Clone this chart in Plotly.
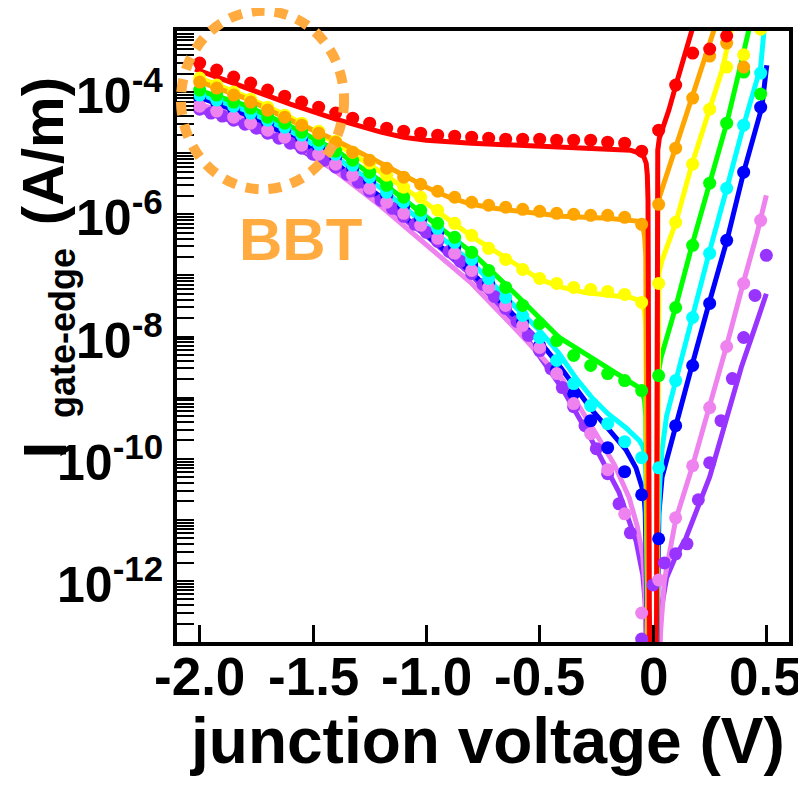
import plotly.graph_objects as go

FONT = "Liberation Sans, Arial, sans-serif"

# ---------------- data (current in A/m stored as log10 values) ----------------
# measured points (common voltage grid)
x_meas = [-2.0, -1.925, -1.85, -1.775, -1.7, -1.625, -1.55, -1.475, -1.4, -1.325,
          -1.25, -1.175, -1.1, -1.025, -0.95, -0.875, -0.8, -0.725, -0.65, -0.575,
          -0.5, -0.425, -0.35, -0.275, -0.2, -0.125, -0.05, 0.025, 0.1, 0.175,
          0.25, 0.325, 0.4, 0.475]

red_meas = [-3.525, -3.639, -3.754, -3.852, -3.967, -4.066, -4.164, -4.246, -4.344, -4.426,
            -4.508, -4.590, -4.639, -4.672, -4.705, -4.721, -4.738, -4.754, -4.770, -4.770,
            -4.770, -4.787, -4.787, -4.787, -4.820, -4.836, -4.967, -4.623, -3.885, -3.361,
            -3.295, -3.082, None, None]
orange_meas = [-3.836, -3.934, -4.049, -4.164, -4.295, -4.410, -4.541, -4.672, -4.820, -4.984,
               -5.115, -5.246, -5.393, -5.508, -5.623, -5.721, -5.803, -5.852, -5.885, -5.918,
               -5.951, -5.984, -6.000, -6.016, -6.016, -6.049, -6.164, -5.836, -4.918, -4.098,
               -3.410, -3.197, -3.590, None]
yellow_meas = [-3.770, -3.885, -4.000, -4.115, -4.246, -4.377, -4.508, -4.639, -4.803, -4.984,
               -5.164, -5.361, -5.557, -5.721, -5.934, -6.148, -6.344, -6.557, -6.738, -6.902,
               -7.049, -7.131, -7.197, -7.230, -7.262, -7.311, -7.443, -7.131, -6.131, -5.180,
               -4.279, -3.590, -3.390, -2.970]
green_meas = [-3.967, -4.049, -4.164, -4.262, -4.410, -4.508, -4.656, -4.787, -4.967, -5.115,
              -5.311, -5.525, -5.721, -5.934, -6.148, -6.377, -6.623, -6.918, -7.197, -7.492,
              -7.787, -8.066, -8.311, -8.475, -8.607, -8.721, -8.885, -8.639, -7.525, -6.508,
              -5.490, -4.508, -3.672, -4.033]
cyan_meas = [-4.049, -4.131, -4.230, -4.344, -4.459, -4.574, -4.705, -4.852, -5.016, -5.197,
             -5.393, -5.639, -5.803, -6.016, -6.230, -6.459, -6.738, -7.049, -7.361, -7.656,
             -8.016, -8.393, -8.770, -9.131, -9.426, -9.721, -9.984, -10.150, -8.721, -7.689,
             -6.639, -5.574, -4.541, -3.689]
blue_meas = [-4.098, -4.180, -4.279, -4.393, -4.508, -4.623, -4.754, -4.902, -5.066, -5.246,
             -5.459, -5.689, -5.869, -6.082, -6.295, -6.541, -6.820, -7.131, -7.443, -7.770,
             -8.148, -8.541, -8.934, -9.377, -9.820, -10.213, -10.590, -11.310, -9.459, -8.475,
             -7.459, -6.426, -5.311, -4.246]
violet_meas = [-4.230, -4.311, -4.410, -4.508, -4.623, -4.738, -4.869, -5.016, -5.180, -5.361,
               -5.574, -5.803, -5.984, -6.180, -6.393, -6.639, -6.918, -7.197, -7.492, -7.820,
               -8.180, -8.607, -9.098, -9.590, -10.180, -10.902, -12.525, -11.984, -10.967, -10.115,
               -9.164, -8.164, -7.131, -6.098]

# purple measured on a finer grid
x_meas_purple = [-2.0, -1.95, -1.9, -1.85, -1.8, -1.75, -1.7, -1.65, -1.6, -1.55,
                 -1.5, -1.45, -1.4, -1.35, -1.3, -1.25, -1.2, -1.15, -1.1, -1.05,
                 -1.0, -0.95, -0.9, -0.85, -0.8, -0.75, -0.7, -0.65, -0.6, -0.55,
                 -0.5, -0.45, -0.4, -0.35, -0.3, -0.25, -0.2, -0.15, -0.1, -0.05,
                 0.0, 0.05, 0.1, 0.15, 0.2, 0.25, 0.3, 0.35, 0.4, 0.45, 0.5]
purple_meas = [-4.279, -4.344, -4.393, -4.459, -4.525, -4.590, -4.672, -4.754, -4.836, -4.918,
               -5.016, -5.115, -5.230, -5.344, -5.475, -5.623, -5.770, -5.902, -6.033, -6.164,
               -6.295, -6.443, -6.607, -6.770, -6.967, -7.148, -7.344, -7.541, -7.754, -7.984,
               -8.230, -8.525, -8.836, -9.148, -9.459, -9.836, -10.246, -10.738, -11.213, -12.951,
               -12.066, -11.705, -11.557, -11.393, -10.672, -10.066, -9.377, -8.689, -8.016, -7.328,
               -6.672]

# simulated curves
red_fit_x = [-2.02, -1.8, -1.6, -1.4, -1.3, -1.2, -1.1, -1.0, -0.8, -0.6, -0.4, -0.2, -0.1, -0.06,
             -0.04, -0.03, -0.025, -0.022, -0.021, -0.016, -0.012,
             0.012, 0.016, 0.019, 0.02, 0.021, 0.028, 0.04, 0.07, 0.101, 0.137, 0.172]
red_fit = [-3.623, -3.918, -4.197, -4.443, -4.557, -4.656, -4.738, -4.787, -4.836, -4.869, -4.893, -4.918,
           -4.951, -5.0, -5.066, -5.164, -5.36, -5.77, -9.0, -12.5, -14.0,
           -14.0, -12.5, -9.0, -5.5, -4.95, -4.754, -4.623, -4.295, -3.885, -3.426, -2.984]

orange_fit_x = [-2.02, -1.8, -1.6, -1.4, -1.2, -1.0, -0.9, -0.8, -0.7, -0.6, -0.4, -0.2, -0.1, -0.06,
                -0.045, -0.037, -0.032, -0.03, -0.028, -0.02,
                0.014, 0.017, 0.019, 0.021, 0.03, 0.057, 0.101, 0.172, 0.233, 0.269]
orange_fit = [-3.803, -4.098, -4.459, -4.787, -5.164, -5.557, -5.721, -5.836, -5.902, -5.951, -6.033, -6.066,
              -6.090, -6.115, -6.197, -6.361, -6.672, -8.0, -11.0, -14.0,
              -14.0, -11.0, -8.0, -5.9, -5.7, -5.39, -4.918, -4.098, -3.344, -2.984]

yellow_fit_x = [-2.02, -1.8, -1.6, -1.4, -1.2, -1.0, -0.8, -0.6, -0.5, -0.4, -0.3, -0.2, -0.1, -0.06,
                -0.045, -0.037, -0.032, -0.03, -0.028, -0.02,
                0.014, 0.017, 0.019, 0.021, 0.026, 0.04, 0.057, 0.101, 0.172, 0.247, 0.305, 0.345]
yellow_fit = [-3.738, -4.066, -4.41, -4.836, -5.311, -5.82, -6.361, -6.836, -7.066, -7.197, -7.279, -7.32,
              -7.361, -7.41, -7.475, -7.607, -7.82, -9.0, -11.0, -14.0,
              -14.0, -11.0, -8.5, -7.3, -6.967, -6.754, -6.59, -6.131, -5.18, -4.28, -3.64, -2.98]

green_fit_x = [-2.02, -1.8, -1.6, -1.4, -1.2, -1.0, -0.8, -0.6, -0.5, -0.414, -0.3, -0.2, -0.1, -0.06,
               -0.045, -0.037, -0.032, -0.03, -0.028, -0.02,
               0.014, 0.017, 0.019, 0.021, 0.035, 0.057, 0.1, 0.172, 0.25, 0.326, 0.392, 0.423]
green_fit = [-3.95, -4.213, -4.557, -4.951, -5.459, -6.033, -6.623, -7.328, -7.7, -8.016, -8.279, -8.508,
             -8.738, -8.84, -8.93, -9.05, -9.3, -10.0, -11.5, -14.0,
             -14.0, -11.0, -9.5, -8.65, -8.35, -8.07, -7.52, -6.51, -5.49, -4.5, -3.475, -2.98]

cyan_fit_x = [-2.02, -1.8, -1.6, -1.4, -1.2, -1.0, -0.8, -0.6, -0.5, -0.414, -0.34, -0.27, -0.2, -0.12,
              -0.06, -0.045, -0.037, -0.032, -0.03, -0.028, -0.02,
              0.014, 0.018, 0.022, 0.03, 0.04, 0.06, 0.1, 0.172, 0.247, 0.326, 0.4, 0.475, 0.49]
cyan_fit = [-4.01, -4.295, -4.639, -5.066, -5.574, -6.18, -6.787, -7.541, -7.9, -8.279, -8.68, -9.0, -9.26,
            -9.492, -9.705, -9.8, -9.92, -10.2, -11.0, -12.0, -14.0,
            -14.0, -12.0, -11.2, -10.4, -9.85, -9.3, -8.72, -7.69, -6.64, -5.57, -4.54, -3.59, -2.98]

blue_fit_x = [-2.02, -1.8, -1.6, -1.4, -1.2, -1.0, -0.8, -0.6, -0.5, -0.414, -0.34, -0.27, -0.2, -0.12,
              -0.075, -0.048, -0.04, -0.034, -0.03, -0.028, -0.02,
              0.014, 0.018, 0.022, 0.026, 0.04, 0.1, 0.172, 0.247, 0.326, 0.4, 0.48, 0.502]
blue_fit = [-4.06, -4.361, -4.721, -5.164, -5.721, -6.328, -6.951, -7.705, -8.08, -8.475, -8.85, -9.2, -9.5,
            -9.85, -10.15, -10.45, -10.57, -10.9, -11.8, -12.5, -14.0,
            -14.0, -12.5, -11.6, -10.9, -10.3, -9.5, -8.475, -7.46, -6.43, -5.31, -4.25, -3.56]

violet_fit_x = [-2.02, -1.8, -1.6, -1.4, -1.2, -1.0, -0.8, -0.6, -0.4, -0.25, -0.17, -0.105, -0.07,
                -0.045, -0.037, -0.032, -0.028, -0.02,
                0.014, 0.025, 0.034, 0.05, 0.1, 0.172, 0.25, 0.325, 0.4, 0.46, 0.5]
violet_fit = [-4.18, -4.426, -4.803, -5.295, -5.869, -6.49, -7.131, -7.902, -8.7, -9.6, -10.1, -10.64, -11.1,
              -11.6, -12.0, -12.6, -13.5, -14.5,
              -14.5, -13.5, -12.8, -12.0, -11.0, -10.15, -9.16, -8.15, -7.1, -6.3, -5.69]

purple_fit_x = [-2.02, -1.8, -1.6, -1.4, -1.2, -1.0, -0.8, -0.6, -0.4, -0.27, -0.15, -0.075, -0.045,
                -0.035, -0.03, -0.025,
                0.014, 0.028, 0.035, 0.06, 0.1, 0.145, 0.2, 0.25, 0.32, 0.39, 0.45, 0.5]
purple_fit = [-4.28, -4.54, -4.85, -5.28, -5.8, -6.35, -7.0, -7.8, -8.85, -9.7, -10.55, -11.34, -11.9,
              -12.33, -13.0, -14.0,
              -14.0, -13.0, -12.5, -11.95, -11.6, -11.3, -10.8, -10.3, -9.4, -8.5, -7.85, -7.3]

y_tick_exp = [-4, -6, -8, -10, -12]
y_tick_text = ["10<sup>-4</sup>", "10<sup>-6</sup>", "10<sup>-8</sup>", "10<sup>-10</sup>", "10<sup>-12</sup>"]
x_tick_vals = [-2.0, -1.5, -1.0, -0.5, 0.0, 0.5]
x_tick_text = ["-2.0", "-1.5", "-1.0", "-0.5", "0", "0.5"]

COL = {"red": "#FF0000", "orange": "#FFA500", "yellow": "#FFFF00", "green": "#00FF00",
       "cyan": "#00FFFF", "blue": "#0000FF", "violet": "#EE82EE", "purple": "#9933FF"}


def to_current(vals):
    return [None if v is None else 10 ** v for v in vals]


fig = go.Figure()

fits = [("purple", purple_fit_x, purple_fit), ("violet", violet_fit_x, violet_fit),
        ("blue", blue_fit_x, blue_fit), ("cyan", cyan_fit_x, cyan_fit),
        ("green", green_fit_x, green_fit), ("yellow", yellow_fit_x, yellow_fit),
        ("orange", orange_fit_x, orange_fit), ("red", red_fit_x, red_fit)]
for name, fx, fy in fits:
    fig.add_trace(go.Scatter(x=fx, y=to_current(fy), mode="lines",
                             line=dict(color=COL[name], width=5),
                             hoverinfo="skip"))

meas = [("purple", x_meas_purple, purple_meas), ("blue", x_meas, blue_meas),
        ("violet", x_meas, violet_meas), ("cyan", x_meas, cyan_meas),
        ("green", x_meas, green_meas), ("yellow", x_meas, yellow_meas),
        ("orange", x_meas, orange_meas), ("red", x_meas, red_meas)]
for name, mx, my in meas:
    fig.add_trace(go.Scatter(x=mx, y=to_current(my), mode="markers",
                             marker=dict(color=COL[name], size=13, line=dict(width=0)),
                             hoverinfo="skip"))

BBT = "#FFAB40"
fig.add_shape(type="circle", xref="paper", yref="paper", x0=0.0065, x1=0.273, y0=0.741, y1=1.033,
              line=dict(color=BBT, width=10, dash="13px,10px"), layer="above")
fig.add_annotation(text="BBT", xref="paper", yref="paper", x=0.201, y=0.658,
                   xanchor="center", yanchor="middle", showarrow=False,
                   font=dict(family=FONT, size=60, color=BBT, weight="bold"))

# tick labels
for v, t in zip(x_tick_vals, x_tick_text):
    fig.add_annotation(text=t, xref="x", yref="paper", x=v, y=-0.056,
                       xanchor="center", yanchor="middle", showarrow=False,
                       font=dict(family=FONT, size=53, color="black", weight="bold"))
for e, t in zip(y_tick_exp, y_tick_text):
    fig.add_annotation(text=t, xref="paper", yref="y", x=-0.02, y=e,
                       xanchor="right", yanchor="middle", showarrow=False,
                       font=dict(family=FONT, size=50, color="black", weight="bold"))

# axis titles
fig.add_annotation(text="(A/m)", xref="paper", yref="paper", x=-0.2198, y=0.804,
                   xanchor="center", yanchor="middle", showarrow=False, textangle=-90,
                   font=dict(family=FONT, size=58, color="black", weight="bold"))
fig.add_annotation(text="gate-edge", xref="paper", yref="paper", x=-0.186, y=0.506,
                   xanchor="center", yanchor="middle", showarrow=False, textangle=-90,
                   font=dict(family=FONT, size=36, color="black", weight="bold"))
fig.add_annotation(text="I", xref="paper", yref="paper", x=-0.2165, y=0.314,
                   xanchor="center", yanchor="middle", showarrow=False, textangle=-90,
                   font=dict(family=FONT, size=62, color="black", weight="bold"))
fig.add_annotation(text="junction voltage (V)", xref="paper", yref="paper",
                   x=0.508, y=-0.162, xanchor="center", yanchor="middle", showarrow=False,
                   font=dict(family=FONT, size=64, color="black", weight="bold"))

# the page body adds an 8 px offset; margins compensate so the plot area lands at 177..789 x 31..642
fig.update_layout(
    width=806, height=788, margin=dict(l=169, r=25, t=23, b=154, autoexpand=False),
    plot_bgcolor="white", paper_bgcolor="white", showlegend=False,
    xaxis=dict(range=[-2.1, 0.6], tickmode="array", tickvals=x_tick_vals, showticklabels=False,
               ticks="inside", ticklen=17, tickwidth=2.5, tickcolor="black",
               showline=True, linewidth=4, linecolor="black", mirror=True,
               showgrid=False, zeroline=False, automargin=False),
    yaxis=dict(type="log", range=[-13, -3], tickmode="array", tickvals=to_current(y_tick_exp),
               showticklabels=False,
               ticks="inside", ticklen=17, tickwidth=2, tickcolor="black",
               showline=True, linewidth=4, linecolor="black", mirror=True,
               showgrid=False, zeroline=False, automargin=False,
               minor=dict(ticks="inside", ticklen=17, tickwidth=1.5, tickcolor="black",
                          dtick="D1", showgrid=False)),
)

fig.write_html("out.html")
